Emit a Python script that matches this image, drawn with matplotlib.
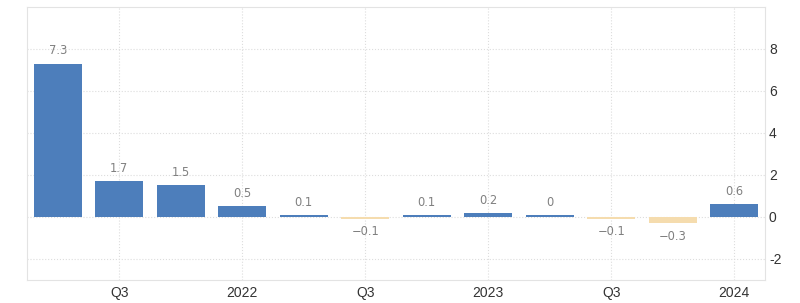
import matplotlib.pyplot as plt

quarters = ["2021Q2", "2021Q3", "2021Q4", "2022Q1", "2022Q2", "2022Q3",
            "2022Q4", "2023Q1", "2023Q2", "2023Q3", "2023Q4", "2024Q1"]
values = [7.3, 1.7, 1.5, 0.5, 0.1, -0.1, 0.1, 0.2, 0.08, -0.1, -0.3, 0.6]
value_labels = ["7.3", "1.7", "1.5", "0.5", "0.1", "\u22120.1", "0.1", "0.2", "0",
                "\u22120.1", "\u22120.3", "0.6"]
tick_pos = [1, 3, 5, 7, 9, 11]
tick_labels = ["Q3", "2022", "Q3", "2023", "Q3", "2024"]
yticks = [-2, 0, 2, 4, 6, 8]

blue = "#4d7ebb"
tan = "#f5dcae"
grid_c = "#dddddd"

fig = plt.figure(figsize=(8, 3.03), dpi=100)
ax = fig.add_axes([0.034, 0.076, 0.922, 0.901])

x = list(range(len(values)))
colors = [blue if v >= 0 else tan for v in values]
ax.bar(x, values, width=0.78, color=colors, zorder=3)

for xi, v, lab in zip(x, values, value_labels):
    if v >= 0:
        ax.annotate(lab, (xi, v), xytext=(0, 4.5), textcoords="offset points",
                    ha="center", va="bottom", fontsize=8.3, color="#808080")
    else:
        ax.annotate(lab, (xi, v), xytext=(0, -4.5), textcoords="offset points",
                    ha="center", va="top", fontsize=8.3, color="#808080")

ax.set_xlim(-0.5, 11.5)
ax.set_ylim(-3, 10)
ax.set_xticks(tick_pos)
ax.set_xticklabels(tick_labels, family="Liberation Sans", fontsize=10, color="#333333")
ax.set_yticks(yticks)
ax.set_yticklabels([str(t) for t in yticks], family="Liberation Sans", fontsize=10,
                   color="#333333")
ax.yaxis.tick_right()
ax.tick_params(length=0, pad=3)
ax.tick_params(axis="x", pad=4)

ax.grid(True, color=grid_c, linestyle=":", linewidth=0.8, zorder=0)
for s in ax.spines.values():
    s.set_color("#e3e3e3")
    s.set_linewidth(0.8)

fig.savefig("out.png", dpi=100)
